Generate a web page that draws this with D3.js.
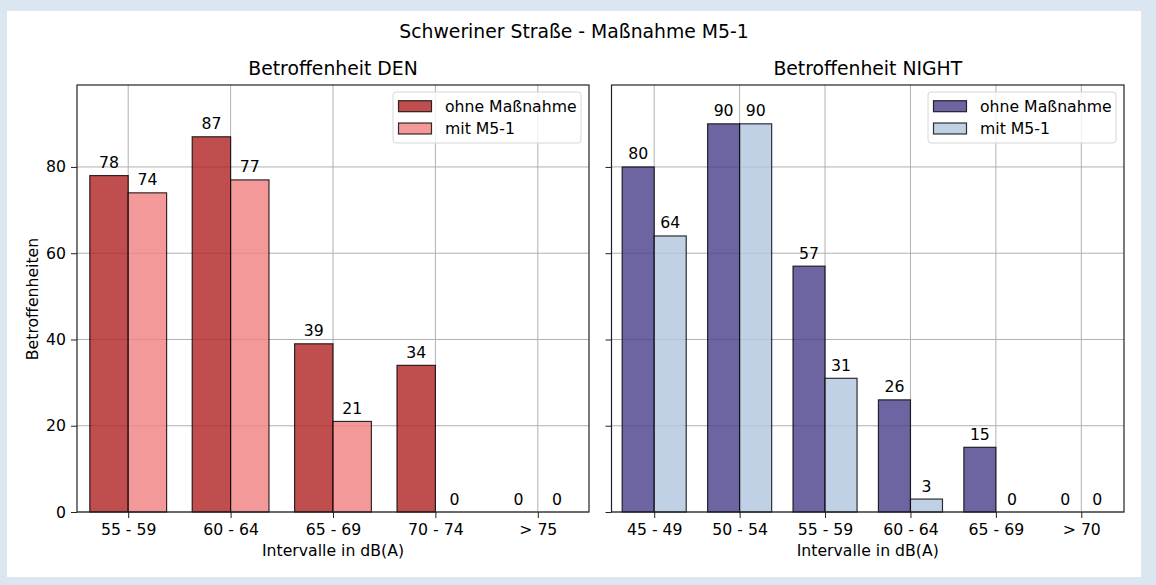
<!DOCTYPE html>
<html>
<head>
<meta charset="utf-8">
<script src="https://cdn.jsdelivr.net/npm/d3@7"></script>
<style>
  body { margin: 0; background: #dce6f1; }
  svg { display: block; font-family: "DejaVu Sans", sans-serif; }
</style>
</head>
<body>
<svg id="chart" width="1156" height="585"></svg>
<script>
// data
const denCategories = ["55 - 59", "60 - 64", "65 - 69", "70 - 74", "> 75"];
const denOhne = [78, 87, 39, 34, 0];
const denMit = [74, 77, 21, 0, 0];

const nightCategories = ["45 - 49", "50 - 54", "55 - 59", "60 - 64", "65 - 69", "> 70"];
const nightOhne = [80, 90, 57, 26, 15, 0];
const nightMit = [64, 90, 31, 3, 0, 0];

const yTicks = [0, 20, 40, 60, 80];
const seriesNames = ["ohne Maßnahme", "mit M5-1"];

const fs = 15.7;      // base font size
const fsTitle = 18.8;

const svg = d3.select("#chart");

// white figure area
svg.append("rect")
    .attr("x", 7).attr("y", 11)
    .attr("width", 1134).attr("height", 566)
    .attr("fill", "white");

svg.append("text")
    .attr("x", 574).attr("y", 37.5)
    .attr("text-anchor", "middle")
    .attr("font-size", fsTitle)
    .text("Schweriner Straße - Maßnahme M5-1");

const plotTop = 85, plotBottom = 512;
const y = d3.scaleLinear().domain([0, 99]).range([plotBottom, plotTop]);
const barW = 0.375;

const drawPanel = (opts) => {
    const { left, right, cats, ohne, mit, colors, title, showYLabels } = opts;
    const x = d3.scaleLinear().domain([-0.5, cats.length - 0.5]).range([left, right]);
    const g = svg.append("g");

    // grid
    g.selectAll(".gx").data(cats).enter().append("line")
        .attr("x1", (d, i) => x(i)).attr("x2", (d, i) => x(i))
        .attr("y1", plotTop).attr("y2", plotBottom)
        .attr("stroke", "#b0b0b0").attr("stroke-width", 1);
    g.selectAll(".gy").data(yTicks).enter().append("line")
        .attr("x1", left).attr("x2", right)
        .attr("y1", d => y(d)).attr("y2", d => y(d))
        .attr("stroke", "#b0b0b0").attr("stroke-width", 1);

    // bars
    const series = [ohne, mit];
    series.forEach((vals, s) => {
        const off = s === 0 ? -barW : 0;
        g.selectAll(".bar" + s).data(vals).enter().append("rect")
            .attr("x", (d, i) => x(i + off))
            .attr("width", x(barW) - x(0))
            .attr("y", d => y(d))
            .attr("height", d => plotBottom - y(d))
            .attr("fill", colors[s])
            .attr("fill-opacity", 0.8)
            .attr("stroke", "black")
            .attr("stroke-opacity", 0.8)
            .attr("stroke-width", 1.2);
        g.selectAll(".lab" + s).data(vals).enter().append("text")
            .attr("x", (d, i) => x(i + off + barW / 2))
            .attr("y", d => y(d) - 7.5)
            .attr("text-anchor", "middle")
            .attr("font-size", fs)
            .text(d => d);
    });

    // axes
    const xAxis = d3.axisBottom(x).tickValues(d3.range(cats.length))
        .tickFormat(i => cats[i]).tickSize(6).tickPadding(6);
    g.append("g").attr("transform", `translate(0,${plotBottom})`).call(xAxis)
        .call(a => a.select(".domain").remove())
        .call(a => a.selectAll("line").attr("stroke", "#222"))
        .call(a => a.selectAll("text").attr("font-size", fs).attr("fill", "black")
            .attr("font-family", "DejaVu Sans"));

    const yAxis = d3.axisLeft(y).tickValues(yTicks).tickSize(6).tickPadding(5)
        .tickFormat(showYLabels ? d3.format("d") : () => "");
    g.append("g").attr("transform", `translate(${left},0)`).call(yAxis)
        .call(a => a.select(".domain").remove())
        .call(a => a.selectAll("line").attr("stroke", "#222"))
        .call(a => a.selectAll("text").attr("font-size", fs).attr("fill", "black")
            .attr("font-family", "DejaVu Sans"));

    g.append("rect")
        .attr("x", left).attr("y", plotTop)
        .attr("width", right - left).attr("height", plotBottom - plotTop)
        .attr("fill", "none").attr("stroke", "#222").attr("stroke-width", 1.2);

    g.append("text")
        .attr("x", (left + right) / 2).attr("y", 75)
        .attr("text-anchor", "middle").attr("font-size", fsTitle)
        .text(title);

    g.append("text")
        .attr("x", (left + right) / 2).attr("y", 556)
        .attr("text-anchor", "middle").attr("font-size", fs)
        .text("Intervalle in dB(A)");

    // legend
    const lw = 188, lx = right - 8 - lw;
    const leg = g.append("g").attr("transform", `translate(${lx},${plotTop + 7})`);
    leg.append("rect").attr("width", lw).attr("height", 51).attr("rx", 3)
        .attr("fill", "white").attr("fill-opacity", 0.8)
        .attr("stroke", "#d6d6d6").attr("stroke-width", 1);
    seriesNames.forEach((name, s) => {
        leg.append("rect")
            .attr("x", 5.5).attr("y", 8.7 + s * 22.3)
            .attr("width", 33).attr("height", 11)
            .attr("fill", colors[s]).attr("fill-opacity", 0.8)
            .attr("stroke", "black").attr("stroke-opacity", 0.8).attr("stroke-width", 1.2);
        leg.append("text")
            .attr("x", 52).attr("y", 19.7 + s * 22.6)
            .attr("font-size", fs).text(name);
    });
};

drawPanel({
    left: 77, right: 589, cats: denCategories, ohne: denOhne, mit: denMit,
    colors: ["#b22222", "#f08080"], title: "Betroffenheit DEN", showYLabels: true
});
drawPanel({
    left: 611.5, right: 1124, cats: nightCategories, ohne: nightOhne, mit: nightMit,
    colors: ["#483d8b", "#b0c4de"], title: "Betroffenheit NIGHT", showYLabels: false
});

svg.append("text")
    .attr("transform", "translate(38,299) rotate(-90)")
    .attr("text-anchor", "middle").attr("font-size", fs)
    .text("Betroffenheiten");
</script>
</body>
</html>
